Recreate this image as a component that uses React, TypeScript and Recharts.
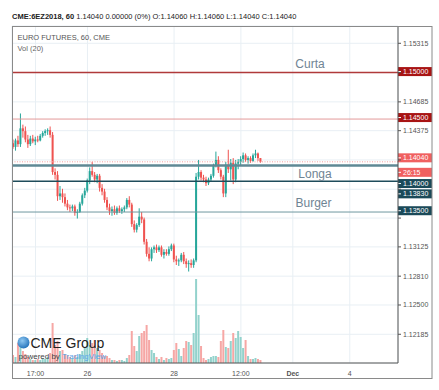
import React from "react";
import {
  ComposedChart,
  Bar,
  XAxis,
  YAxis,
  CartesianGrid,
  ReferenceLine,
} from "recharts";

// 60 min candles, CME 6EZ2018
const OPEN = [
  1.1424, 1.142, 1.1427, 1.1423, 1.144, 1.1437, 1.1428, 1.1423, 1.1429, 1.1426,
  1.1428, 1.1427, 1.1432, 1.1435, 1.1437, 1.1438, 1.1433, 1.1393, 1.139, 1.1367,
  1.137, 1.1366, 1.1359, 1.1355, 1.1354, 1.1356, 1.1349, 1.135, 1.1359, 1.1368,
  1.1373, 1.1384, 1.1394, 1.139, 1.1385, 1.1389, 1.1376, 1.1372, 1.1363, 1.1355,
  1.1351, 1.1353, 1.1349, 1.1354, 1.1351, 1.1353, 1.1355, 1.1363, 1.1358, 1.1337,
  1.1331, 1.1336, 1.1345, 1.1342, 1.1318, 1.1305, 1.13, 1.131, 1.1312, 1.1309,
  1.1312, 1.1304, 1.1307, 1.1305, 1.131, 1.1314, 1.1299, 1.1297, 1.1298, 1.1304,
  1.1297, 1.1294, 1.1295, 1.1293, 1.1298, 1.1388, 1.1393, 1.1387, 1.1385, 1.1381,
  1.1385, 1.1389, 1.14, 1.1406, 1.1395, 1.1388, 1.137, 1.1401, 1.1396, 1.1403,
  1.1385, 1.1402, 1.1404, 1.1407, 1.1411, 1.1406, 1.1408, 1.1405, 1.1411, 1.1413,
  1.1408,
];
const HIGH = [
  1.1428, 1.1429, 1.1432, 1.1456, 1.1444, 1.1442, 1.1433, 1.1432, 1.1433, 1.1431,
  1.1432, 1.1434, 1.1437, 1.1439, 1.144, 1.1442, 1.1436, 1.1397, 1.1394, 1.1378,
  1.1375, 1.137, 1.1363, 1.1358, 1.1358, 1.1358, 1.1353, 1.1361, 1.137, 1.1376,
  1.1386, 1.1398, 1.1404, 1.1393, 1.1391, 1.1391, 1.138, 1.1375, 1.1366, 1.1359,
  1.1356, 1.1357, 1.1356, 1.1357, 1.1355, 1.1357, 1.1365, 1.1367, 1.136, 1.1341,
  1.1338, 1.1354, 1.135, 1.1344, 1.1321, 1.1312, 1.1312, 1.1314, 1.1315, 1.1314,
  1.1314, 1.131, 1.131, 1.1313, 1.1316, 1.1316, 1.1303, 1.13, 1.1306, 1.1307,
  1.13, 1.1298, 1.1299, 1.13, 1.1392, 1.1406, 1.1395, 1.139, 1.1388, 1.1387,
  1.1391, 1.1402, 1.1415, 1.141, 1.1397, 1.139, 1.1404, 1.1417, 1.1407, 1.1408,
  1.1406, 1.1407, 1.141, 1.1414, 1.1413, 1.141, 1.141, 1.1413, 1.1417, 1.1414,
  1.1408,
];
const LOW = [
  1.1418, 1.1416, 1.142, 1.142, 1.143, 1.1425, 1.1419, 1.1421, 1.1424, 1.1422,
  1.1425, 1.1426, 1.143, 1.1432, 1.1433, 1.143, 1.139, 1.1385, 1.1362, 1.1363,
  1.136, 1.1356, 1.1352, 1.135, 1.1351, 1.1346, 1.1343, 1.1349, 1.1357, 1.1365,
  1.1371, 1.138, 1.1388, 1.1382, 1.1381, 1.1372, 1.1368, 1.136, 1.1352, 1.1347,
  1.1346, 1.1347, 1.1347, 1.1349, 1.1348, 1.135, 1.1353, 1.1355, 1.1334, 1.1328,
  1.1328, 1.1334, 1.1338, 1.1315, 1.1302, 1.1297, 1.1297, 1.1306, 1.1306, 1.1307,
  1.1302, 1.13, 1.1303, 1.1303, 1.1308, 1.1296, 1.1293, 1.1292, 1.1296, 1.1294,
  1.129, 1.1286, 1.129, 1.129, 1.1296, 1.1385, 1.1384, 1.1382, 1.1378, 1.1379,
  1.1383, 1.1387, 1.1398, 1.1392, 1.1385, 1.1366, 1.1366, 1.1392, 1.1384, 1.138,
  1.1382, 1.1396, 1.14, 1.1403, 1.1404, 1.1402, 1.1403, 1.1404, 1.1408, 1.1405,
  1.1403,
];
const CLOSE = [
  1.142, 1.1427, 1.1423, 1.144, 1.1437, 1.1428, 1.1423, 1.1429, 1.1426, 1.1428,
  1.1427, 1.1432, 1.1435, 1.1437, 1.1438, 1.1433, 1.1393, 1.139, 1.1367, 1.137,
  1.1366, 1.1359, 1.1355, 1.1354, 1.1356, 1.1349, 1.135, 1.1359, 1.1368, 1.1373,
  1.1384, 1.1394, 1.139, 1.1385, 1.1389, 1.1376, 1.1372, 1.1363, 1.1355, 1.1351,
  1.1353, 1.1349, 1.1354, 1.1351, 1.1353, 1.1355, 1.1363, 1.1358, 1.1337, 1.1331,
  1.1336, 1.1345, 1.1342, 1.1318, 1.1305, 1.13, 1.131, 1.1312, 1.1309, 1.1312,
  1.1304, 1.1307, 1.1305, 1.131, 1.1314, 1.1299, 1.1297, 1.1298, 1.1304, 1.1297,
  1.1294, 1.1295, 1.1293, 1.1298, 1.1388, 1.1393, 1.1387, 1.1385, 1.1381, 1.1385,
  1.1389, 1.14, 1.1406, 1.1395, 1.1388, 1.137, 1.1401, 1.1396, 1.1403, 1.1385,
  1.1402, 1.1404, 1.1407, 1.1411, 1.1406, 1.1408, 1.1405, 1.1411, 1.1413, 1.1408,
  1.1404,
];
const VOLUME = [
  800, 600, 2000, 2300, 1200, 900, 600, 400, 300, 300,
  400, 300, 500, 400, 600, 1000, 4000, 1800, 2200, 1200,
  1300, 900, 800, 600, 500, 800, 600, 900, 1200, 1500,
  2500, 1800, 2000, 2300, 1500, 1300, 1000, 700, 700, 500,
  300, 300, 200, 300, 300, 200, 500, 800, 3200, 1700,
  1200, 2700, 3000, 3200, 3800, 2300, 1300, 1000, 600, 400,
  600, 300, 500, 400, 500, 1300, 2000, 1400, 700, 1500,
  2200, 2100, 1800, 3000, 8400, 4800, 1700, 500, 300, 400,
  600, 700, 700, 600, 2200, 3300, 1600, 1500, 2200, 3000,
  2500, 3200, 2600, 1500, 2300, 700, 400, 400, 500, 400,
  300,
];

// time slots on the axis (history + empty future bars)
const SLOTS = 156;
const X_TICKS = [9, 30, 65, 92, 113, 136];
const X_LABELS = ["17:00", "26", "28", "12:00", "Dec", "4"];

const PRICE_TICKS = [
  1.15315, 1.15, 1.14685, 1.14375, 1.1406, 1.13745, 1.13435, 1.13125, 1.1281,
  1.125, 1.12185,
];
const HIDDEN_TICKS = [1.15, 1.1406, 1.13745, 1.13435];

const UP = "#26a69a";
const DOWN = "#ef5350";
const UP_VOL = "#93d2cc";
const DOWN_VOL = "#f6a7a5";
const FONT = "'Liberation Sans', Arial, sans-serif";

const data = Array.from({ length: SLOTS }, (_, i) =>
  i < OPEN.length
    ? {
        i,
        o: OPEN[i],
        h: HIGH[i],
        l: LOW[i],
        c: CLOSE[i],
        v: VOLUME[i],
        range: [LOW[i], HIGH[i]],
      }
    : { i }
);

const Candle = (props: any) => {
  const { x, y, width, height, payload } = props;
  if (!payload || payload.o == null) return null;
  const { o, h, l, c } = payload;
  const color = c >= o ? UP : DOWN;
  const k = h === l ? 0 : height / (h - l);
  const top = y + (h - Math.max(o, c)) * k;
  const bot = y + (h - Math.min(o, c)) * k;
  const cx = x + width / 2;
  return (
    <g>
      <line x1={cx} x2={cx} y1={y} y2={y + height} stroke={color} strokeWidth={1} />
      <rect x={x} y={top} width={width} height={Math.max(bot - top, 1)} fill={color} />
    </g>
  );
};

const VolBar = (props: any) => {
  const { x, y, width, height, payload } = props;
  if (!payload || payload.o == null || !(height > 0)) return null;
  return (
    <rect
      x={x}
      y={y}
      width={width}
      height={height}
      fill={payload.c >= payload.o ? UP_VOL : DOWN_VOL}
    />
  );
};

type Tag = { text: string; fill: string; dy: number };

const lineLabel =
  (tags: Tag[], name?: string, nameX = 0, nameDy = 0) =>
  (props: any) => {
    const vb = props.viewBox || {};
    const y0 = vb.y;
    const right = vb.x + vb.width;
    return (
      <g>
        {name && (
          <text
            x={vb.x + nameX}
            y={y0 + nameDy}
            textAnchor="middle"
            fontSize={12}
            fontFamily={FONT}
            fill="#6f8494"
          >
            {name}
          </text>
        )}
        {tags.map((t) => (
          <g key={t.text}>
            <rect x={right} y={y0 + t.dy - 4.5} width={34} height={9} fill={t.fill} />
            <line x1={right} x2={right + 3} y1={y0 + t.dy} y2={y0 + t.dy} stroke="#fff" />
            <text
              x={right + 5}
              y={y0 + t.dy}
              dy="0.35em"
              fontSize={7}
              fontFamily={FONT}
              fill="#fff"
            >
              {t.text}
            </text>
          </g>
        ))}
      </g>
    );
  };

const PriceTick = (props: any) => {
  const { x, y, payload } = props;
  if (HIDDEN_TICKS.includes(payload.value)) return null;
  return (
    <text x={x} y={y} dy="0.35em" fontSize={7} fontFamily={FONT} fill="#555">
      {payload.value.toFixed(5)}
    </text>
  );
};

const TimeTick = (props: any) => {
  const { x, y, payload } = props;
  const label = X_LABELS[X_TICKS.indexOf(payload.value)] ?? "";
  return (
    <text
      x={x}
      y={y}
      dy="0.71em"
      textAnchor="middle"
      fontSize={7}
      fontFamily={FONT}
      fontWeight={label === "Dec" ? "bold" : "normal"}
      fill="#555"
    >
      {label}
    </text>
  );
};

export default function App() {
  return (
    <div
      style={{
        position: "fixed",
        left: 0,
        top: 0,
        width: 439,
        height: 390,
        background: "#fff",
        fontFamily: FONT,
      }}
    >
      <ComposedChart
        width={439}
        height={390}
        data={data}
        margin={{ top: 26, right: 7, bottom: 11, left: 12 }}
        barGap={-2}
      >
        <CartesianGrid stroke="#e8eff4" yAxisId="price" />
        <XAxis
          dataKey="i"
          type="category"
          ticks={X_TICKS}
          interval={0}
          height={16}
          tickLine={false}
          tickSize={6}
          axisLine={{ stroke: "#555" }}
          tick={<TimeTick />}
        />
        <YAxis
          yAxisId="price"
          orientation="right"
          type="number"
          domain={[1.11876, 1.15501]}
          ticks={PRICE_TICKS}
          allowDataOverflow
          width={34}
          tickSize={3}
          tickMargin={2}
          tickLine={{ stroke: "#555" }}
          axisLine={{ stroke: "#555" }}
          tick={<PriceTick />}
        />
        <YAxis yAxisId="vol" hide domain={[0, 33700]} />
        <Bar
          yAxisId="vol"
          dataKey="v"
          barSize={2}
          shape={<VolBar />}
          isAnimationActive={false}
        />
        <Bar
          yAxisId="price"
          dataKey="range"
          barSize={2}
          shape={<Candle />}
          isAnimationActive={false}
        />
        <ReferenceLine
          yAxisId="price"
          y={1.15}
          stroke="#b03a3a"
          strokeWidth={1.5}
          label={lineLabel([{ text: "1.15000", fill: "#a81414", dy: -1 }], "Curta", 298, -5)}
        />
        <ReferenceLine
          yAxisId="price"
          y={1.145}
          stroke="#e39a9a"
          strokeWidth={1}
          label={lineLabel([{ text: "1.14500", fill: "#a81414", dy: -1.5 }])}
        />
        <ReferenceLine
          yAxisId="price"
          y={1.1404}
          stroke="#f3a0a0"
          strokeDasharray="1 1.5"
          label={lineLabel([
            { text: "1.14040", fill: "#f06060", dy: -4 },
            { text: "26:15", fill: "#f06060", dy: 10.5 },
          ])}
        />
        <ReferenceLine
          yAxisId="price"
          y={1.14}
          stroke="#5f8894"
          strokeWidth={2.5}
          label={lineLabel([{ text: "1.14000", fill: "#1b4a59", dy: 18 }])}
        />
        <ReferenceLine
          yAxisId="price"
          y={1.1383}
          stroke="#1e4c5b"
          strokeWidth={1.5}
          label={lineLabel([{ text: "1.13830", fill: "#1b4a59", dy: 12.5 }], "Longa", 303, -3.5)}
        />
        <ReferenceLine
          yAxisId="price"
          y={1.135}
          stroke="#6f989f"
          strokeWidth={1}
          label={lineLabel([{ text: "1.13500", fill: "#1b4a59", dy: -1.3 }], "Burger", 301.5, -5.5)}
        />
      </ComposedChart>

      <svg
        width={439}
        height={390}
        style={{ position: "absolute", left: 0, top: 0, pointerEvents: "none" }}
      >
        <rect x={12.5} y={26.5} width={419.5} height={352} fill="none" stroke="#8a8a8a" />
        <text x={12} y={18.5} fontSize={7.5} fontFamily={FONT} fill="#222">
          <tspan fontWeight="bold">CME:6EZ2018, 60</tspan>
          <tspan> 1.14040 0.00000 (0%) O:1.14060 H:1.14060 L:1.14040 C:1.14040</tspan>
        </text>
        <text x={17.5} y={39.5} fontSize={7.5} fontFamily={FONT} fill="#555">
          EURO FUTURES, 60, CME
        </text>
        <text x={17.5} y={51} fontSize={7.5} fontFamily={FONT} fill="#666">
          Vol (20)
        </text>
        <defs>
          <radialGradient id="globe" cx="40%" cy="35%" r="70%">
            <stop offset="0%" stopColor="#8fc8f2" />
            <stop offset="100%" stopColor="#1f6fb8" />
          </radialGradient>
        </defs>
        <circle cx={23.5} cy={342.5} r={6} fill="url(#globe)" />
        <text x={30.5} y={347.5} fontSize={14} fontFamily={FONT} fill="#222">
          CME Group
        </text>
        <text x={18.5} y={358.5} fontSize={8} fontFamily={FONT} fill="#444">
          powered by <tspan fill="#5aa6e8">TradingView</tspan>
        </text>
      </svg>
    </div>
  );
}
